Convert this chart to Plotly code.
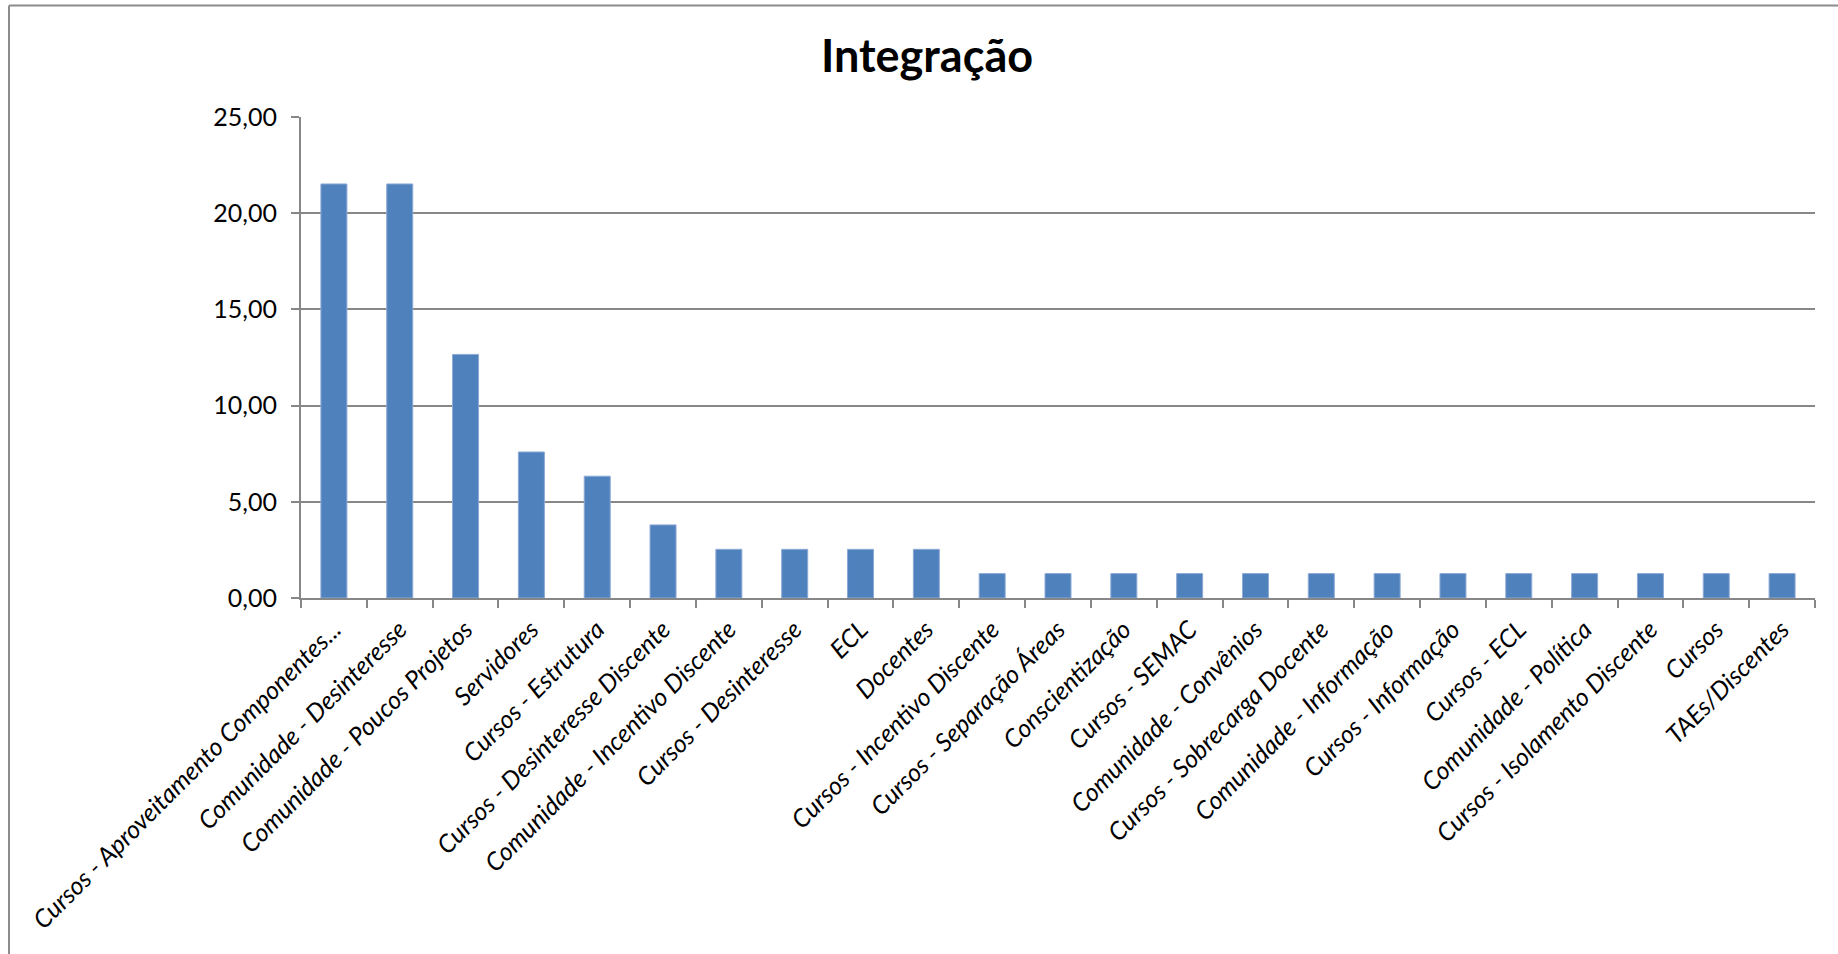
import plotly.graph_objects as go

categories = [
    "Cursos - Aproveitamento Componentes...",
    "Comunidade - Desinteresse",
    "Comunidade - Poucos Projetos",
    "Servidores",
    "Cursos - Estrutura",
    "Cursos - Desinteresse Discente",
    "Comunidade - Incentivo Discente",
    "Cursos - Desinteresse",
    "ECL",
    "Docentes",
    "Cursos - Incentivo Discente",
    "Cursos - Separação Áreas",
    "Conscientização",
    "Cursos - SEMAC",
    "Comunidade - Convênios",
    "Cursos - Sobrecarga Docente",
    "Comunidade - Informação",
    "Cursos - Informação",
    "Cursos - ECL",
    "Comunidade - Política",
    "Cursos - Isolamento Discente",
    "Cursos",
    "TAEs/Discentes",
]
values = [21.52, 21.52, 12.66, 7.59, 6.33, 3.80, 2.53, 2.53, 2.53, 2.53,
          1.27, 1.27, 1.27, 1.27, 1.27, 1.27, 1.27, 1.27, 1.27, 1.27,
          1.27, 1.27, 1.27]
y_ticks = [0, 5, 10, 15, 20, 25]

W, H = 1838, 954
L, R, T, B = 301, 23, 117, 356
pw = W - L - R
ph = H - T - B

fig = go.Figure()
fig.add_trace(go.Bar(
    x=categories, y=values,
    marker=dict(color="#4F81BD", line=dict(color="#8DAAD6", width=1)),
    hoverinfo="x+y",
))

GRID = "#878787"
fig.update_layout(
    width=W, height=H,
    margin=dict(l=L, r=R, t=T, b=B, autoexpand=False),
    paper_bgcolor="white", plot_bgcolor="white",
    separators=",.",
    bargap=0.605,
    showlegend=False,
    font=dict(family="Lato, 'Open Sans', sans-serif", color="black"),
    title=dict(text="<b>Integração</b>", x=927 / W, xanchor="center",
               y=1 - 56 / H, yanchor="middle",
               font=dict(size=45, family="Lato, sans-serif", color="black")),
    xaxis=dict(
        type="category",
        automargin=False,
        tickangle=-45,
        tickfont=dict(size=25, family="Lato, sans-serif", color="black",
                      style="italic"),
        ticks="outside", ticklen=8, tickwidth=1.5, tickcolor=GRID,
        tickson="boundaries",
        ticklabelstandoff=5,
        showline=True, linecolor=GRID, linewidth=2,
        showgrid=False,
        range=[-0.5, len(categories) - 0.5],
    ),
    yaxis=dict(
        automargin=False,
        range=[0, 25],
        tickvals=y_ticks,
        tickformat=".2f",
        tickfont=dict(size=25, family="Lato, sans-serif", color="black"),
        ticks="outside", ticklen=8, tickwidth=1.5, tickcolor=GRID,
        ticklabelstandoff=9,
        showline=True, linecolor=GRID, linewidth=2,
        showgrid=True, gridcolor=GRID, gridwidth=1.5,
        zeroline=False,
    ),
)

# chart-area border (top and left edges, as in the reference)
bx = (9 - L) / pw
by = 1 + (T - 5.5) / ph
fig.add_shape(type="line", xref="paper", yref="paper",
              x0=bx, x1=(W + 5 - L) / pw, y0=by, y1=by,
              line=dict(color="#8C8C8C", width=2))
fig.add_shape(type="line", xref="paper", yref="paper",
              x0=bx, x1=bx, y0=by, y1=-(B + 5) / ph,
              line=dict(color="#8C8C8C", width=2))

fig.write_html("out.html",
               config={"displayModeBar": False},
               post_script="document.body.style.margin='0';"
                           "document.body.style.overflow='hidden';")
